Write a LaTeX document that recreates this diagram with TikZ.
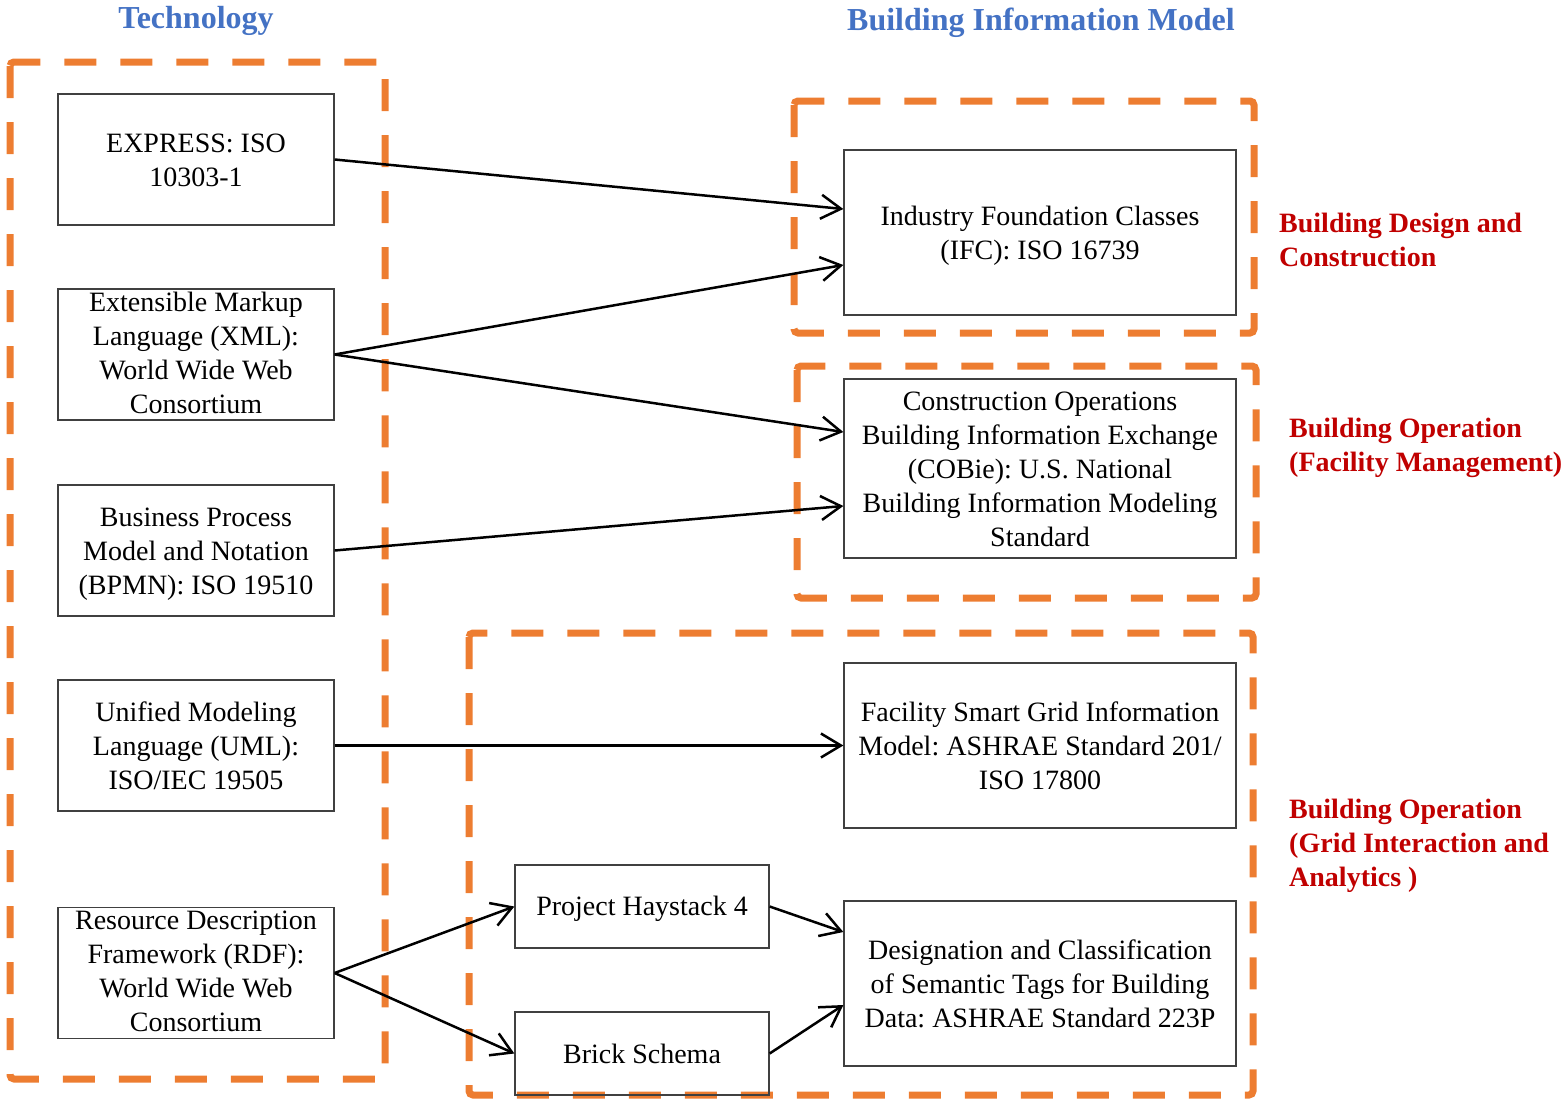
\documentclass[tikz,border=0pt]{standalone}
\usepackage{fontspec}
\setmainfont{Liberation Serif}
\usetikzlibrary{arrows.meta,calc}
\definecolor{orng}{HTML}{ED7D31}
\definecolor{ttlblue}{HTML}{4472C4}
\definecolor{lblred}{HTML}{C00000}
\newcommand\myStrut{\rule[-6pt]{0pt}{31pt}}
\newcommand\myStrutS{\rule[-4pt]{0pt}{23pt}}
\frenchspacing
\begin{document}
\begin{tikzpicture}[x=1pt,y=-1pt,
  grp/.style={draw=orng, line width=7pt, dash pattern=on 32pt off 24pt, rounded corners=4pt},
  box/.style={draw=black!75, line width=1.3pt, align=center, inner sep=0pt, font=\fontsize{28}{34}\selectfont\frenchspacing},
  lbox/.style={box, minimum width=276pt, minimum height=131pt},
  rbox/.style={box, minimum width=392pt, minimum height=165pt},
  sbox/.style={box, minimum width=254pt, minimum height=83pt},
  link/.style={line width=2.5pt, -{Straight Barb[length=20pt,width=24pt,line width=2.5pt]}},
  ttl/.style={font=\fontsize{32}{38}\selectfont\bfseries, text=ttlblue},
  cat/.style={font=\fontsize{28}{34}\selectfont\bfseries, text=lblred, align=left, anchor=west, inner sep=0pt}]
\useasboundingbox (0,0) rectangle (1567,1100);
% titles
\node[ttl] (ttltech) at (196,21) {Technology};
\node[ttl] (ttlbim) at (1041,23) {Building Information Model};
% group frames
\draw[grp] (10,62) rectangle (385,1079);
\draw[grp] (794,101) rectangle (1254,333);
\draw[grp] (797,366) rectangle (1256,598);
\draw[grp] (469,633) rectangle (1253,1095);
% category labels
\node[cat] (catdesign) at (1279,240) {Building Design and\\Construction};
\node[cat] (catfm) at (1289,448) {Building Operation\\(Facility Management)};
\node[cat] (catgrid) at (1289,846) {Building Operation\\(Grid Interaction and\\Analytics )};
% technology nodes
\node[lbox] (express) at (196,159.5) {\myStrut EXPRESS: ISO\\10303-1\myStrut};
\node[lbox] (xml) at (196,354.5) {\myStrutS Extensible Markup\\Language (XML):\\World Wide Web\\Consortium\myStrutS};
\node[lbox] (bpmn) at (196,550.5) {\myStrut Business Process\\Model and Notation\\(BPMN): ISO 19510\myStrut};
\node[lbox] (uml) at (196,745.5) {\myStrut Unified Modeling\\Language (UML):\\ISO/IEC 19505\myStrut};
\node[lbox] (rdf) at (196,973) {\myStrutS Resource Description\\Framework (RDF):\\World Wide Web\\Consortium\myStrutS};
% BIM nodes
\node[rbox] (ifc) at (1040,232.5) {\myStrut Industry Foundation Classes\\(IFC): ISO 16739\myStrut};
\node[rbox, minimum height=179pt] (cobie) at (1040,468.5) {\myStrut Construction Operations\\Building Information Exchange\\(COBie): U.S. National\\Building Information Modeling\\Standard\myStrut};
\node[rbox] (fsgim) at (1040,745.5) {\myStrut Facility Smart Grid Information\\Model: ASHRAE Standard 201/\\ISO 17800\myStrut};
\node[rbox] (desig) at (1040,983.5) {\myStrut Designation and Classification\\of Semantic Tags for Building\\Data: ASHRAE Standard 223P\myStrut};
\node[sbox] (haystack) at (642,906.5) {\myStrut Project Haystack 4\myStrut};
\node[sbox] (brick) at (642,1053.5) {\myStrut Brick Schema\myStrut};
% connectors
\draw[link] (express.east) -- ($(ifc.west)+(0,-23.5)$);
\draw[link] (xml.east) -- ($(ifc.west)+(0,32.5)$);
\draw[link] (xml.east) -- ($(cobie.west)+(0,-36.5)$);
\draw[link] (bpmn.east) -- ($(cobie.west)+(0,37.5)$);
\draw[link] (uml.east) -- (fsgim.west);
\draw[link] (rdf.east) -- (haystack.west);
\draw[link] (rdf.east) -- (brick.west);
\draw[link] (haystack.east) -- ($(desig.west)+(0,-51.5)$);
\draw[link] (brick.east) -- ($(desig.west)+(0,21.5)$);
\end{tikzpicture}
\end{document}
